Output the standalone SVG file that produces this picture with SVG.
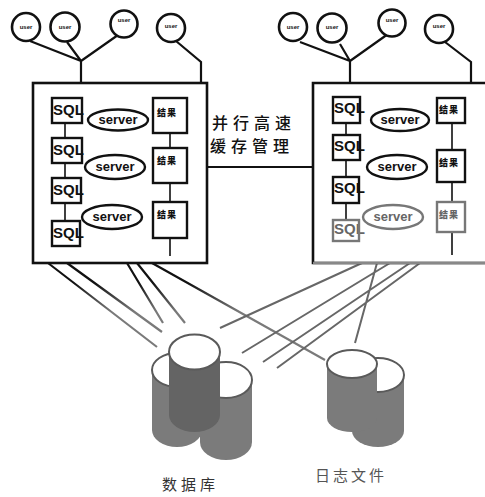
<svg xmlns="http://www.w3.org/2000/svg" width="485" height="497" viewBox="0 0 485 497">
  <style>
    .frame { fill: #fff; stroke: #111; stroke-width: 2.6; }
    .user circle { fill: #fff; stroke: #111; stroke-width: 2.6; }
    .user text { font-family: "Liberation Sans", Arial, sans-serif; font-size: 6px; font-weight: bold; fill: #111; text-anchor: middle; }
    .sql rect { fill: none; stroke: #111; stroke-width: 2.4; }
    .sql text { font-family: "Liberation Sans", Arial, sans-serif; font-size: 15px; font-weight: bold; fill: #111; }
    .srv ellipse { fill: #fff; stroke: #111; stroke-width: 2.4; }
    .srv text { font-family: "Liberation Sans", Arial, sans-serif; font-size: 13px; font-weight: 900; fill: #111; text-anchor: middle; }
    .res rect { fill: #fff; stroke: #111; stroke-width: 2.4; }
    .res text { font-family: "Noto Sans CJK SC", sans-serif; font-size: 9px; font-weight: 900; fill: #111; letter-spacing: 1px; }
    .faded rect, .faded ellipse { stroke: #777; }
    .faded text { fill: #666; }
    .wire { fill: none; stroke: #111; stroke-width: 2.2; }
    .chain { fill: none; stroke: #111; stroke-width: 1.6; }
    .link-l { fill: none; stroke: url(#fadeDown); stroke-width: 2.2; }
    .link-r { fill: none; stroke: #676767; stroke-width: 2; }
    .body { fill: #7b7b7b; }
    .body-dark { fill: #646464; }
    .cap { fill: #fff; stroke: #5a5a5a; stroke-width: 2; }
    .cjk { font-family: "Noto Sans CJK SC", sans-serif; }
  </style>
  <defs>
    <linearGradient id="fadeDown" gradientUnits="userSpaceOnUse" x1="0" y1="283" x2="0" y2="312">
      <stop offset="0" stop-color="#111"/>
      <stop offset="1" stop-color="#7a7a7a"/>
    </linearGradient>
  </defs>

  <!-- connectors: user tree wiring, cache link, storage links -->
  <g id="connectors">
    <!-- left node users -->
    <path class="wire" d="M30,41 L81,61 M67,42 L81,61 M118,35 L81,61 M81,61 V83"/>
    <path class="wire" d="M176,41 L201,62 V83"/>
    <!-- right node users -->
    <path class="wire" d="M300,42 L350,61 M340,44 L350,61 M388,34 L350,61 M350,61 V83"/>
    <path class="wire" d="M445,42 L471,62 V83"/>
    <!-- parallel cache link -->
    <path class="wire" d="M207,167 H313"/>
    <!-- left node to storage -->
    <path class="link-l" d="M48,263 L157,347 M67,263 L162,332 M127,263 L163,323 M137,263 L185,323 M152,263 L325,360"/>
    <!-- right node to storage -->
    <path class="link-r" d="M362,263 L220,328 M390,263 L242,353 M410,263 L263,362 M420,263 L277,368 M377,263 L355,343"/>
  </g>

  <!-- users -->
  <g id="user-l1" class="user"><circle cx="26" cy="27" r="14"/><text x="26" y="29">user</text></g>
  <g id="user-l2" class="user"><circle cx="65" cy="27" r="14.5"/><text x="65" y="29">user</text></g>
  <g id="user-l3" class="user"><circle cx="124" cy="24" r="13.5"/><text x="124" y="22">user</text></g>
  <g id="user-l4" class="user"><circle cx="171" cy="28" r="14"/><text x="171" y="28">user</text></g>
  <g id="user-r1" class="user"><circle cx="293" cy="27" r="14"/><text x="293" y="29">user</text></g>
  <g id="user-r2" class="user"><circle cx="332" cy="28" r="14.5"/><text x="332" y="29">user</text></g>
  <g id="user-r3" class="user"><circle cx="392" cy="23" r="13.5"/><text x="392" y="22">user</text></g>
  <g id="user-r4" class="user"><circle cx="439" cy="29" r="14"/><text x="439" y="28">user</text></g>

  <!-- left server node -->
  <g id="node-left">
    <rect class="frame" x="33" y="83" width="174" height="180"/>
    <path class="chain" d="M65,123 V138 M65,163 V178 M65,203 V220"/>
    <path class="chain" d="M170,133 V148 M170,183 V202 M170,238 V256"/>
    <g class="sql"><text x="53" y="115">SQL</text><rect x="52" y="98" width="30" height="25"/></g>
    <g class="sql"><text x="53" y="155">SQL</text><rect x="52" y="138" width="30" height="25"/></g>
    <g class="sql"><text x="53" y="195">SQL</text><rect x="52" y="178" width="29" height="25"/></g>
    <g class="sql"><text x="53" y="238">SQL</text><rect x="52" y="221" width="28" height="25"/></g>
    <g class="srv"><ellipse cx="118" cy="120" rx="30" ry="10.5"/><text x="118" y="124">server</text></g>
    <g class="srv"><ellipse cx="115" cy="167" rx="30" ry="12"/><text x="115" y="171">server</text></g>
    <g class="srv"><ellipse cx="112" cy="217" rx="30" ry="12"/><text x="112" y="221">server</text></g>
    <g class="res"><rect x="153" y="98" width="34" height="35"/><text x="157" y="116">结果</text></g>
    <g class="res"><rect x="153" y="148" width="34" height="35"/><text x="157" y="164">结果</text></g>
    <g class="res"><rect x="153" y="202" width="34" height="36"/><text x="157" y="218">结果</text></g>
  </g>

  <!-- cache management label -->
  <g id="cache-label" class="cjk" font-size="16" font-weight="500" fill="#111" letter-spacing="5">
    <text x="212" y="129">并行高速</text>
    <text x="210" y="152">缓存管理</text>
  </g>

  <!-- right server node -->
  <g id="node-right">
    <path class="frame" d="M490,83 H313 V263 H490"/>
    <path d="M313,263 H490" stroke="#888" stroke-width="2.4" fill="none"/>
    <path class="chain" d="M346,123 V135 M346,160 V177 M346,203 V220"/>
    <path class="chain" d="M452,123 V150 M452,182 V202 M452,232 V255"/>
    <g class="sql"><text x="334" y="113">SQL</text><rect x="333" y="97" width="27" height="26"/></g>
    <g class="sql"><text x="334" y="151">SQL</text><rect x="333" y="135" width="27" height="25"/></g>
    <g class="sql"><text x="334" y="193">SQL</text><rect x="333" y="177" width="26" height="26"/></g>
    <g class="sql faded"><text x="334" y="234">SQL</text><rect x="333" y="220" width="26" height="21"/></g>
    <g class="srv"><ellipse cx="400" cy="120" rx="29" ry="11"/><text x="400" y="124">server</text></g>
    <g class="srv"><ellipse cx="397" cy="167" rx="30" ry="12"/><text x="397" y="171">server</text></g>
    <g class="srv faded"><ellipse cx="393" cy="217" rx="30" ry="12"/><text x="393" y="221">server</text></g>
    <g class="res"><rect x="437" y="98" width="28" height="25"/><text x="439" y="113">结果</text></g>
    <g class="res"><rect x="437" y="150" width="28" height="32"/><text x="439" y="166">结果</text></g>
    <g class="res faded"><rect x="437" y="202" width="28" height="30"/><text x="439" y="218">结果</text></g>
  </g>

  <!-- database: three stacked cylinders -->
  <g id="database">
    <path class="body" d="M152,370 V430 A25,17 0 0 0 202,430 V370 Z"/>
    <ellipse class="cap" cx="177" cy="370" rx="25" ry="17"/>
    <path class="body" d="M200,380 V442 A26,18 0 0 0 252,442 V380 Z"/>
    <ellipse class="cap" cx="226" cy="380" rx="26" ry="18"/>
    <path class="body-dark" d="M169,352 V415 A25.5,17 0 0 0 220,415 V352 Z"/>
    <ellipse class="cap" cx="194.5" cy="352" rx="25.5" ry="17.5"/>
    <text class="cjk" x="162" y="490" font-size="15" fill="#333" letter-spacing="4">数据库</text>
  </g>

  <!-- log files: two cylinders -->
  <g id="log-files">
    <path class="body" d="M352,375 V431 A26,16 0 0 0 404,431 V375 Z"/>
    <ellipse class="cap" cx="378" cy="375" rx="26" ry="17"/>
    <path class="body" d="M327,364 V418 A25,14 0 0 0 377,418 V364 Z"/>
    <ellipse class="cap" cx="352" cy="364" rx="25" ry="14"/>
    <text class="cjk" x="315" y="481" font-size="15" fill="#555" letter-spacing="3">日志文件</text>
  </g>
</svg>
